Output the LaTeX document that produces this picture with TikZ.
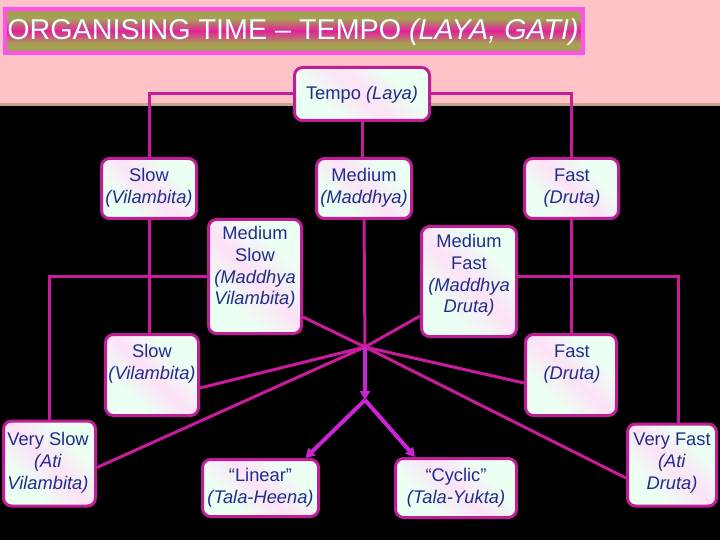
\documentclass[tikz,border=0pt]{standalone}
\usepackage{fontspec}
\setmainfont{Liberation Sans}
\usetikzlibrary{arrows.meta,calc}
\definecolor{bgpink}{HTML}{FFC2C6}
\definecolor{sepc}{HTML}{C8A488}
\definecolor{olv}{HTML}{A6A052}
\definecolor{tmag}{HTML}{E4209E}
\definecolor{tborder}{HTML}{FF50F0}
\definecolor{ttext}{HTML}{E8FFFF}
\definecolor{bord}{HTML}{BE1E96}
\definecolor{lnk}{HTML}{C81C9C}
\definecolor{arr}{HTML}{CC22D8}
\definecolor{navy}{HTML}{1F2E8A}
\definecolor{mint}{HTML}{ECFFF3}
\definecolor{pinkf}{HTML}{FDE2F7}
\pgfdeclarehorizontalshading{boxshade}{100bp}{color(0bp)=(mint); color(32bp)=(mint); color(50bp)=(pinkf); color(68bp)=(mint); color(100bp)=(mint)}
\pgfdeclareverticalshading{titleshade}{100bp}{color(0bp)=(olv); color(36bp)=(olv); color(50bp)=(tmag); color(64bp)=(olv); color(100bp)=(olv)}
\pgfdeclarelayer{back}
\pgfdeclarelayer{lines}
\pgfsetlayers{back,lines,main}
\tikzset{
  bx/.style={draw=bord, line width=3pt, rounded corners=8pt, shading=boxshade, shading angle=45, inner sep=0pt},
  txt/.style={text=navy, font=\fontsize{18.3}{21.8}\selectfont, align=center, inner sep=0pt},
  lk/.style={draw=lnk, line width=3pt},
  ar/.style={draw=arr, line width=4pt, -{Triangle[length=9pt,width=10pt]}}
}
\begin{document}
\begin{tikzpicture}[x=1pt,y=-1pt]
\useasboundingbox (0,0) rectangle (720,540);
\begin{pgfonlayer}{back}
\fill[black] (0,0) rectangle (720,540);
\fill[bgpink] (0,0) rectangle (720,104);
\fill[sepc] (0,103.5) rectangle (720,106);
\end{pgfonlayer}
% title
\node[shading=titleshade, draw=tborder, line width=4pt, minimum width=578pt, minimum height=44pt, inner sep=0pt] (tbox) at (294,31) {};
\node[text=ttext, font=\fontsize{28.7}{31}\selectfont, inner sep=0pt] (title) at (293,32) {ORGANISING TIME – TEMPO \textit{(LAYA, GATI)}};
% boxes
\node[bx, minimum width=135pt, minimum height=53pt] (tempo) at (362,94) {};
\node[txt] (tempoT) at (362,95) {Tempo \textit{(Laya)}};
\node[bx, minimum width=95pt, minimum height=60pt] (slowA) at (149,188.5) {};
\node[txt] (slowAT) at (149,188) {Slow\\\textit{(Vilambita)}};
\node[bx, minimum width=95pt, minimum height=60pt] (medA) at (364,188.5) {};
\node[txt] (medAT) at (364,188) {Medium\\\textit{(Maddhya)}};
\node[bx, minimum width=94pt, minimum height=60pt] (fastA) at (571.5,188.5) {};
\node[txt] (fastAT) at (572,188) {Fast\\\textit{(Druta)}};
\node[bx, minimum width=93pt, minimum height=114pt] (medslow) at (255,276.5) {};
\node[txt] (medslowT) at (255,267.5) {Medium\\Slow\\\textit{(Maddhya}\\\textit{Vilambita)}};
\node[bx, minimum width=95pt, minimum height=110pt] (medfast) at (469,281.5) {};
\node[txt] (medfastT) at (469,275.5) {Medium\\Fast\\\textit{(Maddhya}\\\textit{Druta)}};
\node[bx, minimum width=93pt, minimum height=81pt] (slowB) at (152,375) {};
\node[txt] (slowBT) at (152,364) {Slow\\\textit{(Vilambita)}};
\node[bx, minimum width=91pt, minimum height=81pt] (fastB) at (571,375) {};
\node[txt] (fastBT) at (572,364) {Fast\\\textit{(Druta)}};
\node[bx, minimum width=92pt, minimum height=85pt] (vslow) at (49.5,463.5) {};
\node[txt] (vslowT) at (48,463) {Very Slow\\\textit{(Ati}\\\textit{Vilambita)}};
\node[bx, minimum width=89pt, minimum height=82pt] (vfast) at (672,465) {};
\node[txt] (vfastT) at (672,463) {Very Fast\\\textit{(Ati}\\\textit{Druta)}};
\node[bx, minimum width=116pt, minimum height=57pt] (linear) at (260.5,488) {};
\node[txt] (linearT) at (260.5,488) {“Linear”\\\textit{(Tala-Heena)}};
\node[bx, minimum width=121pt, minimum height=59pt] (cyclic) at (456,488) {};
\node[txt] (cyclicT) at (456,488) {“Cyclic”\\\textit{(Tala-Yukta)}};
\coordinate (J) at (365,347);
\coordinate (S) at (365,400);
\begin{pgfonlayer}{lines}
\draw[lk] (tempo.west) -| (slowA.north);
\draw[lk] (tempo.east) -| (fastA.north);
\draw[lk] (tempo.south) -- (tempo.south |- medA.north);
\draw[lk] (slowA.south) -- (slowA.south |- slowB.north);
\draw[lk] (fastA.south) -- (fastA.south |- fastB.north);
\draw[lk] (medA.south) -- (J);
\draw[lk] ($(medslow.south east)+(0,-18)$) -- (J);
\draw[lk] ($(medfast.south west)+(0,-22)$) -- (J);
\draw[lk] ($(slowB.east)+(0,13)$) -- (J);
\draw[lk] ($(fastB.west)+(0,8)$) -- (J);
\draw[lk] ($(vslow.east)+(0,4)$) -- (J);
\draw[lk] ($(vfast.west)+(0,13)$) -- (J);
\draw[lk] (medslow.west) -| (vslow.north);
\draw[lk] ($(medfast.east)+(0,-5.5)$) -| ($(vfast.north)+(6,0)$);
\draw[ar] (J) -- (S);
\draw[ar] (S) -- ($(linear.north)+(45,0)$);
\draw[ar] (S) -- ($(cyclic.north)+(-41,0)$);
\end{pgfonlayer}
\end{tikzpicture}
\end{document}
